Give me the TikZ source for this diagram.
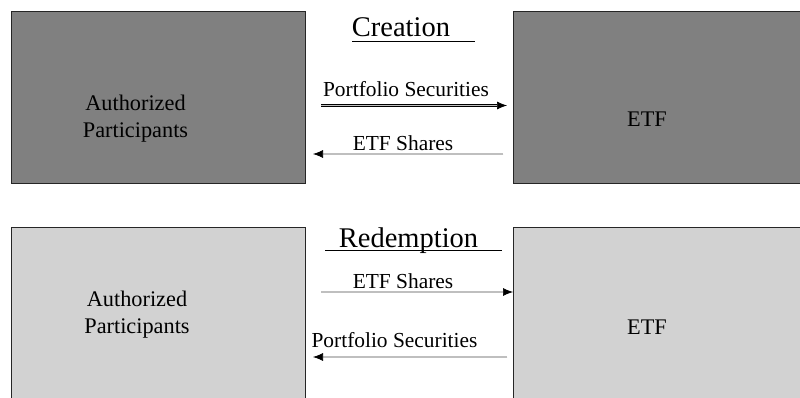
\documentclass[tikz,border=0pt]{standalone}
\usepackage{fontspec}
\setmainfont{Liberation Serif}
\usetikzlibrary{arrows.meta}

\begin{document}
\begin{tikzpicture}[x=1pt,y=-1pt,
  box/.style={draw=black!85, line width=0.9pt, inner sep=0pt, anchor=north west},
  flow/.style={draw=black, line width=0.7pt, double=gray!50, double distance=1.5pt,
    -{Latex[length=10pt,width=8pt]}},
  lbl/.style={anchor=base, inner sep=0pt, font=\fontsize{21.4}{24}\selectfont},
  headtxt/.style={anchor=base, inner sep=0pt, font=\fontsize{28.5}{32}\selectfont},
  boxtxt/.style={align=center, inner sep=0pt, font=\fontsize{22.3}{27}\selectfont}]
\clip (0,0) rectangle (800,398) ;
\fill[white] (0,0) rectangle (800,398) ;

% creation
\node[box, fill=gray, minimum width=294pt, minimum height=172pt] (apc) at (11,11) {} ;
\node[box, fill=gray, minimum width=300pt, minimum height=172pt] (etfc) at (513,11) {} ;
\node[boxtxt] (apctxt) at (135.5,119) {Authorized\\Participants} ;
\node[boxtxt] (etfctxt) at (647,119) {ETF} ;
\node[headtxt] (crt) at (401,37) {Creation} ;
\draw[line width=0.9pt] (352,41) coordinate (crl) -- (475,41) coordinate (crr) ;
\node[lbl] (psc) at (406,97) {Portfolio Securities} ;
\node[lbl] (shc) at (403,151) {ETF Shares} ;
\coordinate (psca) at (321,105.5) ;
\coordinate (pscb) at (507,105.5) ;
\coordinate (shca) at (503,154) ;
\coordinate (shcb) at (313,154) ;
\draw[flow] (psca) -- (pscb) ;
\draw[flow] (shca) -- (shcb) ;

% redemption
\node[box, fill=gray!35, minimum width=294pt, minimum height=200pt] (apr) at (11,227) {} ;
\node[box, fill=gray!35, minimum width=300pt, minimum height=200pt] (etfr) at (513,227) {} ;
\node[boxtxt] (aprtxt) at (137,315) {Authorized\\Participants} ;
\node[boxtxt] (etfrtxt) at (647,327) {ETF} ;
\node[headtxt] (rdm) at (408.5,247) {Redemption} ;
\draw[line width=0.9pt] (325,250) coordinate (rdl) -- (502,250) coordinate (rdr) ;
\node[lbl] (shr) at (403,288) {ETF Shares} ;
\node[lbl] (psr) at (394.5,347) {Portfolio Securities} ;
\coordinate (shra) at (321,292) ;
\coordinate (psra) at (507,357) ;
\coordinate (psrb) at (313,357) ;
\draw[flow] (shra) -- (etfr.west |- shra) ;
\draw[flow] (psra) -- (psrb) ;
\end{tikzpicture}
\end{document}
